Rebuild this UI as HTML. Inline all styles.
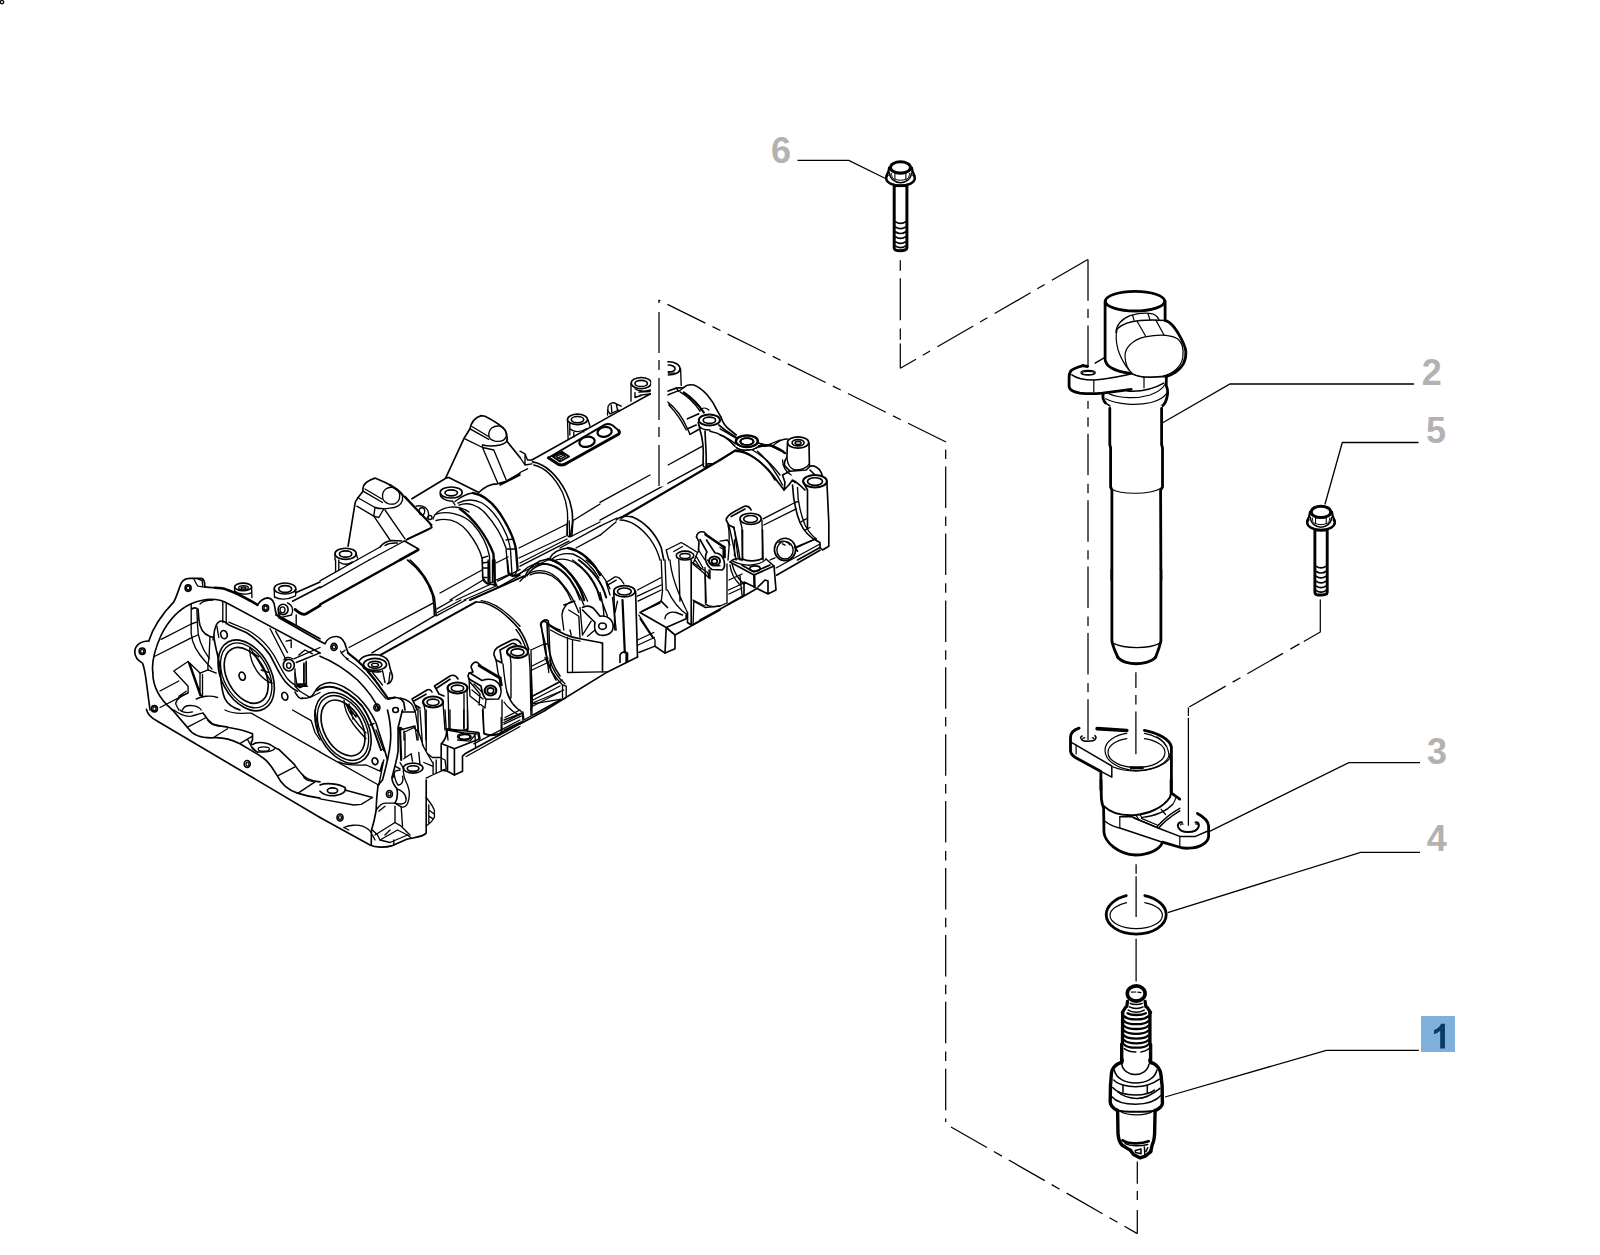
<!DOCTYPE html>
<html><head><meta charset="utf-8"><title>Diagram</title>
<style>
html,body{margin:0;padding:0;background:#fff;}
body{width:1600px;height:1255px;overflow:hidden;font-family:"Liberation Sans",sans-serif;}
svg{display:block}
.k{stroke:#000;fill:none;stroke-linecap:round;stroke-linejoin:round;vector-effect:non-scaling-stroke}
.t{stroke-width:1.2}
.m{stroke-width:1.5}
.h{stroke-width:2.8}
.w{fill:#fff}
.cv .t{stroke-width:1.35}
.cv .m{stroke-width:1.65}
.lbl{font-family:"Liberation Sans",sans-serif;font-weight:bold;font-size:36px;fill:#b2b2b2}
</style></head><body>
<svg width="1600" height="1255" viewBox="0 0 1600 1255">
<rect width="1600" height="1255" fill="#fff"/>
<!-- corner speck -->
<circle cx="2" cy="2.1" r="1.7" fill="none" stroke="#000" stroke-width="1.3"/>
<!-- labels -->
<text class="lbl" x="771" y="162.8">6</text>
<text class="lbl" x="1421.7" y="384.6">2</text>
<text class="lbl" x="1426" y="443">5</text>
<text class="lbl" x="1427" y="764">3</text>
<text class="lbl" x="1426.7" y="851">4</text>
<rect x="1421" y="1016" width="34" height="36" fill="#7eb0d9"/>
<path fill="#0c3a66" transform="translate(1431.6 1048.6) scale(0.01655 -0.01655)" d="M806,0 L519,0 L519,1082 Q362,935 148,865 L148,1125 Q260,1162 392,1264 Q524,1366 573,1502 L806,1502 Z"/>
<!-- leader lines -->
<g stroke="#000" stroke-width="1.3" fill="none" stroke-linejoin="miter">
<polyline points="797.5,160.4 848.8,160.4 885.5,178.5"/>
<polyline points="1414,384 1230,384 1162.7,422.8"/>
<polyline points="1418.5,442.5 1342.3,442.5 1324.9,504.5"/>
<polyline points="1420,762.7 1348.8,762.7 1208.6,831.8"/>
<polyline points="1420,852.3 1360.6,852.3 1167.7,912.7"/>
<polyline points="1418.8,1050.3 1326.3,1050.3 1165,1097"/>
</g>

<defs>
<g id="bolt" fill="none" stroke="#000" stroke-linecap="round" stroke-linejoin="round">
  <!-- flange -->
  <ellipse cx="0" cy="17.6" rx="14.3" ry="7.6" fill="#fff" stroke-width="2.5"/>
  <!-- head body -->
  <path d="M-11.2,7 C-11.4,10 -12.3,12 -13.6,14.5 L13.6,14.5 C12.3,12 11.4,10 11.2,7 Z" fill="#fff" stroke="none"/>
  <path d="M-11.3,7 C-11.4,10 -12.4,12.4 -14,15.3 M11.3,7 C11.4,10 12.4,12.4 14,15.3" stroke-width="2.4"/>
  <ellipse cx="0" cy="6.9" rx="10" ry="5.7" fill="#fff" stroke-width="3"/>
  <!-- hex -->
  <path d="M-9.2,10.3 L-5.6,11.6 L5.4,11.6 L9.2,10.3 M-5.6,11.6 V18.5 M5.4,11.6 V18.5" stroke-width="1.1"/>
  <path d="M-10.9,12.5 C-10.8,18.5 -5,22.2 0,22.2 C5,22.2 10.8,18.5 10.9,12.5" stroke-width="1.5"/>
  <path d="M-9,13 C-9,16.5 -7.3,18.8 -5.6,18.5 C-3,20 3,20 5.4,18.5 C7.3,18.8 9,16.5 9,13" stroke-width="1"/>
  <!-- neck -->
  <path d="M-5,24.2 H5.2 M-5,26 H5.2" stroke-width="1"/>
  <!-- shaft -->
  <path d="M-6.3,24.5 V87.4 C-6.3,91 6.4,91 6.4,87.4 V24.5" stroke-width="3" />
  <path d="M-4.7,61.3 C-2.5,63.3 2.5,63.3 4.8,61.3 M-4.7,66.5 C-2.5,68.5 2.5,68.5 4.8,66.5 M-4.7,71.4 C-2.5,73.4 2.5,73.4 4.8,71.4 M-4.7,76.3 C-2.5,78.3 2.5,78.3 4.8,76.3 M-4.7,81.2 C-2.5,83.2 2.5,83.2 4.8,81.2 M-4.7,85.6 C-2.5,87.6 2.5,87.6 4.8,85.6" stroke-width="1.7"/>
</g>
</defs>
<use href="#bolt" x="900.5" y="160.6"/>
<use href="#bolt" x="1321" y="505" transform="translate(1321 505) scale(0.97 1) translate(-1321 -505)"/>

<path fill="#fff" stroke="none" d="M 1083.1,365.6 L 1071.9,369.4 L 1069.4,373.8 L 1069.4,387.5 L 1073.1,391.9 L 1087.5,393.8 L 1102.5,393.1 L 1105.0,360.0 L 1105.0,301.2 L 1165.6,301.2 L 1165.6,320.6 L 1185.6,350.0 L 1182.5,365.0 L 1166.2,376.2 L 1166.9,400.0 L 1160.0,407.5 L 1160.6,420.0 L 1110.0,420.0 L 1110.0,407.5 L 1103.8,400.0 Z"/>
<ellipse class="k h" cx="1135.0" cy="301.2" rx="29.6" ry="9.8"/>
<path class="k h" d="M 1105.1,301.2 L 1105.1,359.4 C 1105.6,366.2 1115.0,371.2 1130.0,373.5"/>
<path class="k h" d="M 1165.1,301.2 L 1165.1,320.4"/>
<path class="k h" d="M 1165.1,320.4 C 1170.0,321.9 1173.8,326.2 1176.9,331.2 C 1180.6,337.5 1185.0,343.8 1185.8,351.2 C 1186.5,360.0 1182.5,367.5 1175.0,372.5 C 1171.9,374.8 1168.8,376.0 1166.0,376.5"/>
<path class="k m" d="M 1117.2,328.8 C 1122.5,323.8 1131.2,321.0 1140.0,320.4 C 1148.8,319.8 1157.5,319.8 1165.1,320.6"/>
<path class="k t" d="M 1117.2,328.8 C 1115.6,335.0 1116.0,342.5 1118.1,350.0 C 1120.6,357.5 1125.0,365.0 1128.8,370.0"/>
<path class="k t" d="M 1115.9,332.5 C 1116.2,325.0 1121.2,319.4 1130.0,315.6 C 1137.5,313.5 1147.5,312.8 1152.5,313.8 C 1155.6,314.8 1157.8,316.9 1159.0,319.4"/>
<path class="k t" d="M 1132.5,315.0 L 1134.0,320.2 M 1147.9,313.5 L 1150.0,319.8 M 1137.2,321.5 L 1145.6,336.0 M 1156.0,320.4 L 1164.0,335.0"/>
<path class="k t" d="M 1125.0,356.2 C 1124.8,347.5 1132.5,340.0 1145.0,336.9 C 1157.5,334.4 1170.0,334.4 1177.5,338.8 C 1182.5,342.5 1183.8,350.0 1182.8,357.5 C 1181.2,366.2 1173.8,373.8 1162.5,376.2 C 1152.5,377.8 1140.0,377.5 1132.5,373.8 C 1126.9,368.8 1125.2,362.5 1125.0,356.2 Z"/>
<path class="k h" d="M 1083.1,365.6 C 1076.9,367.2 1072.5,368.8 1070.6,371.2 C 1069.4,373.1 1069.1,375.0 1069.1,377.5 L 1069.1,386.9 C 1070.0,390.6 1073.8,392.2 1080.0,393.1 C 1087.5,394.0 1095.0,393.8 1102.5,393.1 C 1112.5,391.9 1122.5,390.6 1131.2,389.4"/>
<path class="k h" d="M 1082.8,365.6 L 1087.5,366.5"/>
<path class="k m" d="M 1095.2,363.1 L 1104.0,357.8"/>
<path class="k m" d="M 1071.9,374.8 C 1076.2,378.1 1083.8,380.0 1093.8,380.0 C 1106.2,379.4 1120.0,376.2 1131.9,373.8"/>
<path class="k t" d="M 1093.8,380.2 L 1093.8,391.9 M 1144.0,377.2 L 1144.0,387.8"/>
<path class="k t" d="M 1131.9,373.8 C 1136.2,376.2 1141.2,377.2 1145.0,377.2 L 1165.0,376.9"/>
<ellipse class="k t" cx="1088.1" cy="372.8" rx="7.2" ry="2.4"/>
<ellipse class="k t" cx="1088.1" cy="373.0" rx="6.0" ry="1.6"/>
<path class="k h" d="M 1103.1,393.8 C 1102.5,397.5 1103.1,400.6 1105.6,403.1"/>
<path class="k h" d="M 1166.2,376.5 C 1166.9,380.0 1165.6,382.5 1166.5,386.2 C 1168.1,390.0 1167.5,396.2 1166.2,400.0 C 1165.0,403.8 1162.5,406.2 1160.0,407.5"/>
<path class="k m" d="M 1105.6,403.1 C 1115.0,410.6 1130.0,411.9 1142.5,411.0 C 1150.0,410.2 1156.2,409.0 1160.0,407.5"/>
<path class="k t" d="M 1108.8,393.8 C 1120.0,398.8 1137.5,398.8 1150.0,395.0 C 1157.5,392.5 1162.5,388.8 1165.6,383.8"/>
<path class="k t" d="M 1105.6,398.8 C 1117.5,405.0 1137.5,405.6 1151.2,402.5 C 1158.8,400.6 1163.8,397.5 1166.9,393.1"/>
<path class="k m" d="M 1127.5,391.0 C 1140.0,391.9 1153.8,388.8 1163.8,383.1"/>
<path class="k t" d="M 1110.0,406.9 C 1120.0,411.9 1137.5,412.5 1150.0,410.6"/>

<path fill="#fff" stroke="none" d="M 1110.3,405.6 L 1161.9,405.6 L 1161.1,580.0 L 1111.9,580.0 Z"/>
<path class="k h" d="M 1109.8,408.4 L 1109.8,444.7 L 1110.6,447.8 L 1110.6,486.9 L 1111.9,490.0 L 1111.9,580.0"/>
<path class="k h" d="M 1161.6,408.4 L 1161.6,444.7 L 1162.5,447.8 L 1162.5,486.9 L 1160.6,490.0 L 1160.9,580.0"/>
<path class="k t" d="M 1111.9,489.2 C 1121.2,494.7 1149.4,494.7 1160.6,488.4"/>

<path fill="#fff" stroke="none" d="M 1111.9,570.0 L 1161.1,570.0 L 1161.1,641.1 L 1155.6,657.5 L 1136.1,663.8 L 1118.1,657.5 L 1111.9,641.1 Z"/>
<path class="k h" d="M 1111.9,570.0 L 1111.9,641.1 C 1112.7,645.0 1115.0,651.2 1117.8,657.2"/>
<path class="k h" d="M 1160.9,570.0 L 1160.9,641.1 C 1160.0,645.0 1158.0,651.2 1155.6,657.2"/>
<path class="k h" d="M 1117.8,657.2 C 1121.2,662.2 1130.6,663.8 1136.1,663.8 C 1141.6,663.8 1151.7,662.2 1155.6,657.2" style="stroke-width:3"/>
<path class="k t" d="M 1113.4,643.4 C 1124.4,648.9 1149.4,648.9 1159.5,643.4"/>

<path class="k h" d="M 1079.1,728.1 C 1074.2,729.6 1070.5,733.0 1070.5,737.5 L 1070.5,751.0 C 1070.9,754.8 1073.5,756.6 1077.2,758.5 L 1100.5,771.2"/>
<path class="k h" d="M 1097.1,728.6 L 1126.8,730.5" style="stroke-width:3.6"/>
<path class="k h" d="M 1144.4,730.4 C 1157.5,733.0 1170.2,739.0 1171.4,747.2 L 1171.4,793.0"/>
<path class="k h" d="M 1100.9,772.0 L 1100.9,790.0"/>
<path class="k t" d="M 1126.8,733.4 C 1115.5,734.9 1105.0,741.2 1105.0,750.2 C 1105.0,761.5 1120.0,770.5 1137.2,770.5 C 1154.5,770.5 1168.0,763.0 1169.5,754.0"/>
<path class="k t" d="M 1144.4,733.4 C 1153.8,734.9 1162.8,739.8 1166.5,746.5"/>
<path class="k t" d="M 1126.8,738.6 C 1117.0,740.1 1108.0,745.0 1108.0,752.5 C 1108.0,760.8 1120.8,767.5 1136.5,767.5 C 1153.0,767.5 1165.0,760.8 1165.0,752.5 C 1165.0,745.8 1156.8,740.5 1144.4,738.6"/>
<path class="k t" d="M 1156.8,736.8 C 1162.0,739.8 1166.5,744.2 1168.0,750.2 C 1168.8,753.2 1169.1,755.5 1169.5,757.0"/>
<path class="k t" d="M 1112.5,766.8 C 1120.0,769.8 1127.5,771.1 1135.8,771.1 C 1146.2,770.9 1157.5,767.9 1165.0,763.0 C 1168.0,760.8 1169.9,758.5 1171.0,756.2"/>
<path class="k t" d="M 1130.5,766.9 L 1143.2,766.9 M 1130.5,768.7 L 1143.2,768.7"/>
<path class="k m" d="M 1071.2,742.4 L 1073.1,743.4 L 1111.8,766.0 L 1111.8,777.2 L 1100.5,771.2"/>
<path class="k t" d="M 1076.1,745.1 L 1076.1,754.0"/>
<path class="k m" d="M 1082.1,736.0 C 1080.2,736.8 1080.2,738.2 1081.8,739.8 C 1084.0,741.6 1093.0,741.6 1094.9,739.8 C 1096.4,738.2 1096.4,736.8 1094.9,735.6"/>
<path class="k t" d="M 1082.5,739.0 C 1083.2,737.9 1084.0,737.5 1084.8,737.9 M 1094.1,739.0 C 1093.8,737.9 1093.0,737.5 1092.2,737.9"/>
<path class="k h" d="M 1101.0,780.0 L 1101.4,798.8 C 1101.8,802.5 1102.5,805.5 1103.6,807.8 L 1104.0,832.5 C 1104.8,841.5 1117.5,854.2 1135.5,855.0 C 1147.5,855.0 1158.8,850.5 1162.5,842.6"/>
<path class="k h" d="M 1171.1,780.0 L 1171.1,792.8 L 1179.8,799.1"/>
<path class="k h" d="M 1197.4,813.4 C 1203.8,816.8 1208.2,820.5 1208.6,825.8 L 1208.6,837.0 C 1207.5,843.0 1200.0,847.9 1188.8,848.2 C 1185.0,848.4 1181.2,847.9 1179.0,847.0 L 1162.5,842.2"/>
<path class="k m" d="M 1162.5,842.2 L 1119.8,828.0 C 1114.5,826.9 1108.5,824.2 1104.0,820.5"/>
<path class="k m" d="M 1103.6,805.9 C 1110.0,812.2 1121.2,816.0 1134.0,815.2 C 1147.5,814.1 1162.5,808.5 1170.0,797.2 L 1171.1,792.8" style="stroke-width:2"/>
<path class="k t" d="M 1141.5,817.5 C 1155.0,816.0 1166.2,811.5 1173.0,804.0 C 1174.5,802.1 1175.2,800.2 1175.6,798.0"/>
<path class="k m" d="M 1157.2,826.6 C 1162.5,820.5 1170.0,813.8 1179.8,808.4 M 1158.9,827.7 C 1164.0,822.0 1171.5,816.0 1179.8,810.9"/>
<path class="k t" d="M 1161.0,809.2 L 1165.5,814.5 M 1135.9,815.2 L 1138.5,819.0 M 1140.0,814.6 L 1141.7,817.5"/>
<path class="k t" d="M 1119.8,816.8 L 1119.8,828.0"/>
<path class="k m" d="M 1119.8,816.8 L 1131.8,816.8 L 1158.0,828.0 L 1179.8,836.4 L 1195.5,836.4 L 1207.9,831.0"/>
<path class="k t" d="M 1134.0,818.2 L 1155.0,826.6 M 1141.5,818.4 L 1157.2,825.0"/>
<path class="k t" d="M 1179.8,836.4 L 1179.8,847.0"/>
<path class="k m" d="M 1182.0,822.4 C 1179.0,821.6 1177.1,824.2 1178.2,827.2 C 1179.8,831.0 1184.2,832.1 1188.0,832.1 C 1192.5,832.1 1197.0,831.0 1198.5,827.2 C 1199.6,824.2 1198.1,821.6 1195.5,822.4" style="stroke-width:2"/>
<path class="k t" d="M 1180.5,825.0 C 1181.2,823.9 1182.4,823.5 1183.1,824.2 M 1195.9,824.2 C 1196.6,823.5 1197.8,823.9 1198.1,825.0"/>

<path class="k h" d="M 1126.3,895.6 C 1114.8,898.6 1106.2,905.7 1106.2,914.8 C 1106.2,925.4 1119.3,934.1 1136.2,934.1 C 1153.1,934.1 1166.2,925.4 1166.2,914.8 C 1166.2,905.7 1157.5,898.6 1144.8,895.6"/>
<path class="k t" d="M 1126.5,902.7 C 1117.4,904.8 1110.0,909.5 1110.0,915.2 C 1110.0,922.9 1121.8,928.6 1136.2,928.6 C 1150.5,928.6 1162.4,922.9 1162.4,915.2 C 1162.4,909.5 1155.0,904.8 1144.8,902.7"/>

<path fill="#fff" stroke="none" d="M 1126.7,1002.1 L 1125.5,1006.9 L 1121.9,1012.5 L 1121.5,1062.6 L 1150.6,1062.6 L 1151.0,1012.5 L 1147.0,1006.9 L 1145.8,1002.1 Z"/>
<ellipse class="k h" cx="1136.2" cy="993.5" rx="8.9" ry="7.6" style="stroke-width:3.6" fill="#fff"/>
<path class="k t" d="M 1131.4,992.1 L 1135.8,992.0 M 1137.8,992.1 L 1141.0,992.7"/>
<path class="k m" d="M 1129.8,998.9 C 1133.0,1001.3 1139.4,1001.3 1143.0,998.9" style="stroke-width:2.2"/>
<path class="k h" d="M 1127.5,1001.3 L 1126.8,1006.5 L 1125.5,1007.3 L 1122.3,1012.5" style="stroke-width:3.2"/>
<path class="k h" d="M 1145.1,1001.3 L 1145.8,1006.5 L 1147.2,1007.3 L 1150.6,1012.5" style="stroke-width:3.2"/>
<path class="k m" d="M 1130.2,1003.3 C 1133.0,1004.9 1139.4,1004.9 1142.2,1003.3 M 1129.4,1006.9 C 1133.0,1008.9 1139.4,1008.9 1143.0,1006.9 M 1128.2,1010.1 C 1132.2,1012.8 1140.2,1012.8 1144.2,1010.1"/>
<path class="k m" d="M 1127.5,1013.2 C 1131.4,1015.6 1141.0,1015.6 1145.8,1013.2" style="stroke-width:2.4"/>
<path class="k h" d="M 1122.7,1012.5 L 1122.5,1043.5 L 1121.7,1044.3 L 1121.7,1062.6" style="stroke-width:3.4"/>
<path class="k h" d="M 1149.9,1012.5 L 1149.9,1043.5 L 1150.6,1044.3 L 1150.6,1062.6" style="stroke-width:3.4"/>
<path class="k m" d="M 1124.4,1016.4 C 1128.2,1020.4 1144.2,1020.4 1148.0,1016.4" style="stroke-width:2.3"/>
<path class="k m" d="M 1124.4,1021.2 C 1128.2,1025.2 1144.2,1025.2 1148.0,1021.2" style="stroke-width:2.3"/>
<path class="k m" d="M 1124.4,1026.0 C 1128.2,1030.0 1144.2,1030.0 1148.0,1026.0" style="stroke-width:2.3"/>
<path class="k m" d="M 1124.4,1030.8 C 1128.2,1034.8 1144.2,1034.8 1148.0,1030.8" style="stroke-width:2.3"/>
<path class="k m" d="M 1124.4,1035.6 C 1128.2,1039.5 1144.2,1039.5 1148.0,1035.6" style="stroke-width:2.3"/>
<path class="k m" d="M 1124.4,1040.3 C 1128.2,1044.3 1144.2,1044.3 1148.0,1040.3" style="stroke-width:2.3"/>
<path class="k m" d="M 1124.4,1044.7 C 1128.2,1048.7 1144.2,1048.7 1148.0,1044.7" style="stroke-width:2.3"/>
<path class="k m" d="M 1124.3,1048.7 C 1127.5,1051.1 1132.2,1052.1 1135.8,1052.1 M 1141.0,1051.9 C 1145.0,1051.1 1147.4,1049.9 1148.6,1048.7"/>
<path fill="#fff" stroke="none" d="M 1121.0,1061.7 L 1114.3,1065.0 L 1111.3,1070.0 L 1110.1,1085.1 L 1110.1,1101.8 L 1112.2,1106.9 L 1116.8,1110.2 L 1118.0,1135.3 L 1120.1,1143.7 L 1130.2,1150.4 L 1133.5,1154.5 L 1140.2,1157.9 L 1145.2,1156.2 L 1150.2,1152.0 L 1152.7,1143.7 L 1154.4,1135.3 L 1156.1,1110.2 L 1160.3,1107.7 L 1162.4,1103.5 L 1162.4,1085.1 L 1160.3,1070.9 L 1156.9,1065.0 L 1150.2,1061.7 Z"/>
<path class="k h" d="M 1122.2,1060.0 L 1121.8,1062.5 C 1117.6,1063.3 1114.3,1065.9 1112.2,1070.0 C 1110.9,1073.4 1111.3,1078.4 1110.5,1085.1 L 1110.2,1101.8 C 1110.5,1105.2 1113.0,1108.1 1116.9,1110.2" style="stroke-width:3.4"/>
<path class="k h" d="M 1149.8,1060.0 L 1150.4,1062.5 C 1154.4,1063.3 1157.8,1065.9 1159.9,1070.5 C 1161.5,1074.2 1161.1,1079.2 1162.1,1085.1 L 1162.4,1103.5 C 1162.0,1106.4 1159.4,1108.5 1156.1,1110.2" style="stroke-width:3.4"/>
<path class="k m" d="M 1121.8,1064.2 C 1122.6,1070.9 1129.3,1074.6 1135.2,1074.6 C 1141.9,1074.6 1147.7,1070.9 1149.0,1064.2"/>
<path class="k m" d="M 1114.3,1070.0 C 1115.9,1078.4 1125.1,1083.0 1135.6,1083.0 C 1146.1,1083.0 1155.3,1078.4 1156.9,1070.0"/>
<path class="k m" d="M 1113.8,1080.1 C 1117.6,1084.3 1126.8,1086.8 1135.6,1086.8 C 1145.2,1086.8 1153.6,1083.4 1159.4,1079.2"/>
<path class="k m" d="M 1123.0,1085.1 L 1123.0,1091.8 M 1147.3,1085.9 L 1147.3,1092.6"/>
<path class="k m" d="M 1112.6,1087.6 C 1117.6,1093.5 1126.8,1095.1 1135.6,1095.1 C 1144.4,1095.1 1151.9,1092.6 1154.4,1090.1"/>
<path class="k m" d="M 1117.6,1091.8 C 1123.5,1096.8 1130.2,1098.5 1136.9,1098.5 C 1144.4,1098.5 1151.9,1095.1 1159.9,1088.4"/>
<path class="k m" d="M 1111.9,1096.8 C 1116.8,1102.7 1126.8,1104.3 1135.6,1104.3 C 1146.1,1104.3 1156.1,1101.0 1161.5,1095.1"/>
<path class="k m" d="M 1116.9,1110.2 C 1125.1,1112.3 1147.7,1112.3 1156.1,1110.2" style="stroke-width:2"/>
<path class="k t" d="M 1120.5,1111.5 C 1125.1,1114.4 1131.8,1114.8 1136.9,1114.8 C 1143.5,1114.8 1150.2,1113.1 1153.6,1111.0"/>
<path class="k h" d="M 1117.6,1110.2 L 1118.0,1133.6 C 1118.4,1138.6 1119.7,1142.8 1122.2,1145.3 L 1130.6,1150.4" style="stroke-width:3.4"/>
<path class="k h" d="M 1155.1,1110.2 L 1154.6,1133.6 C 1154.3,1138.6 1153.6,1142.0 1152.3,1144.5 L 1150.7,1151.6" style="stroke-width:3.4"/>
<path class="k h" d="M 1122.6,1140.3 C 1127.6,1143.7 1140.2,1144.5 1148.6,1141.3"/>
<path class="k m" d="M 1125.1,1143.7 C 1130.2,1146.2 1140.2,1146.6 1147.7,1144.5"/>
<path class="k h" d="M 1130.6,1150.4 L 1133.5,1154.5 L 1140.2,1157.9 L 1145.2,1156.2 L 1150.7,1151.6" style="stroke-width:3.4"/>
<path class="k m" d="M 1135.2,1150.4 L 1141.0,1149.1 L 1141.0,1153.7 L 1135.6,1152.5 Z M 1144.4,1147.0 L 1144.8,1154.5 M 1147.7,1147.8 L 1146.1,1151.2"/>

<g class="cv">
<path class="k m" d="M 150.0,710.0 L 146.9,686.2 C 145.6,675.0 144.4,667.5 142.5,663.1 C 138.1,660.6 134.8,657.5 134.8,651.9 C 134.8,646.2 139.4,641.2 148.8,641.0"/>
<path class="k m" d="M 148.8,641.0 C 151.9,631.2 160.0,616.2 173.8,601.9 C 176.9,596.2 178.8,588.8 181.2,583.1 C 183.1,579.8 185.6,578.5 189.4,578.4 L 201.2,578.4 C 204.0,578.8 205.0,581.2 204.8,586.9"/>
<path class="k t" d="M 193.8,578.8 C 195.0,581.2 196.2,584.4 198.1,586.2 L 204.4,587.2 M 198.1,579.0 L 202.2,580.6 L 202.8,586.5"/>
<path class="k m" d="M 204.8,586.9 C 210.0,587.5 212.5,587.6 215.0,587.8"/>
<path class="k m" d="M 215.0,587.8 C 220.0,588.0 223.8,588.5 226.2,589.4 C 233.8,591.9 243.8,596.9 251.2,601.2 L 257.5,604.8" style="stroke-width:2.6"/>
<path class="k m" d="M 257.5,604.8 C 259.4,601.9 263.1,598.5 267.5,597.9 C 271.9,598.1 274.4,601.9 275.0,608.1 C 275.4,612.5 276.2,615.6 279.4,617.5"/>
<path class="k m" d="M 277.8,615.2 L 320.0,638.8 M 279.0,617.8 L 320.0,641.2"/>
<path class="k m" d="M 152.8,672.5 C 151.2,660.0 156.2,646.2 161.2,635.0 C 168.8,620.0 180.0,608.8 191.2,603.8 C 201.2,599.4 212.5,598.5 220.0,600.2 C 223.8,601.2 226.2,602.5 228.8,604.0 L 320.0,653.1"/>
<path class="k m" d="M 152.8,672.5 C 152.8,685.0 157.5,697.5 172.5,710.0"/>
<ellipse class="k m" cx="188.1" cy="588.1" rx="3.0" ry="3.2"/>
<ellipse class="k t" cx="188.1" cy="588.1" rx="1.6" ry="1.9"/>
<ellipse class="k m" cx="265.6" cy="608.1" rx="3.0" ry="3.2"/>
<ellipse class="k t" cx="265.6" cy="608.1" rx="1.6" ry="1.9"/>
<ellipse class="k m" cx="142.2" cy="651.2" rx="3.0" ry="3.2"/>
<ellipse class="k t" cx="142.2" cy="651.2" rx="1.6" ry="1.9"/>
<ellipse class="k m" cx="154.4" cy="708.8" rx="3.0" ry="3.2"/>
<ellipse class="k t" cx="154.4" cy="708.8" rx="1.6" ry="1.9"/>
<ellipse class="k m" cx="243.1" cy="586.9" rx="8.5" ry="3.8"/>
<ellipse class="k t" cx="243.5" cy="587.8" rx="4.8" ry="2.2"/>
<ellipse class="k t" cx="243.5" cy="588.1" rx="2.5" ry="1.1"/>
<path class="k t" d="M 234.6,586.9 L 234.6,591.9 M 251.6,586.9 L 251.9,597.5 M 235.0,591.2 C 238.8,594.4 246.2,595.0 251.2,592.8 M 236.9,593.1 L 250.0,601.2"/>
<ellipse class="k m" cx="285.0" cy="588.5" rx="10.8" ry="5.5"/>
<ellipse class="k m" cx="285.2" cy="589.0" rx="6.5" ry="3.4"/>
<path class="k t" d="M 274.2,589.4 L 274.5,597.5 M 295.9,589.4 L 295.6,595.6 M 274.5,596.9 C 278.8,600.0 287.5,600.0 295.0,596.2"/>
<path class="k m" d="M 295.6,592.8 L 320.0,581.9 M 292.5,601.2 L 320.0,586.9"/>
<path class="k h" d="M 295.0,609.4 C 300.0,613.8 303.8,615.0 306.2,613.8 L 320.0,605.6"/>
<ellipse class="k m" cx="283.1" cy="609.4" rx="5.0" ry="5.2"/>
<ellipse class="k t" cx="282.5" cy="609.8" rx="2.5" ry="3.0"/>
<path class="k t" d="M 287.5,602.8 C 292.5,605.0 294.0,610.0 291.5,615.0 L 282.5,617.2 M 296.2,615.0 L 296.2,625.0 M 278.1,612.5 L 281.2,618.8 M 275.6,615.0 L 277.8,615.2"/>
<path class="k t" d="M 222.8,601.9 L 222.8,622.5 M 226.2,603.1 L 226.2,624.0"/>
<path class="k t" d="M 191.2,604.0 L 191.2,625.0 C 190.2,635.0 193.1,646.2 200.0,655.0 C 203.8,660.0 207.5,663.8 211.9,669.0"/>
<path class="k t" d="M 196.9,610.0 L 197.5,625.0 C 197.5,635.0 201.2,647.5 209.0,658.1"/>
<path class="k m" d="M 191.9,609.0 C 193.8,607.5 196.2,607.5 198.1,609.4 L 198.8,618.8 C 199.4,627.5 202.5,633.8 210.0,636.5 L 213.1,637.2"/>
<path class="k t" d="M 200.0,604.0 C 201.9,601.9 207.5,600.0 213.1,600.0"/>
<path class="k t" d="M 210.0,636.5 L 209.0,658.1 M 213.1,637.2 L 213.1,640.0"/>
<path class="k t" d="M 161.2,639.4 L 191.2,624.0 M 154.4,656.5 L 191.2,637.8 M 191.2,624.0 L 196.5,622.2 M 191.2,637.8 L 197.8,635.0"/>
<path class="k t" d="M 173.8,671.0 L 188.1,661.5 L 200.0,673.1 M 173.8,671.0 L 188.1,686.2 L 188.1,692.8 L 160.0,707.5 M 160.0,691.0 L 178.8,681.0"/>
<path class="k t" d="M 188.1,661.5 L 200.0,695.6 M 190.0,663.8 L 201.2,695.6 M 200.0,673.1 L 208.1,669.8 L 216.2,673.1 M 202.5,674.4 L 202.5,696.9 M 200.0,673.1 L 200.0,695.6"/>
<path class="k t" d="M 208.1,669.8 C 207.5,666.2 208.1,662.5 209.0,658.1 M 196.2,699.0 L 202.5,696.5 M 196.2,699.0 C 201.2,696.2 210.0,695.0 217.5,697.5"/>
<path class="k t" d="M 188.1,692.8 C 182.5,695.0 176.2,698.8 175.6,703.8 L 178.8,710.0 M 178.8,696.2 L 186.2,691.2"/>
<path class="k t" d="M 182.5,710.0 C 183.8,706.2 187.5,705.0 192.5,705.6 C 197.5,706.2 200.0,708.1 201.2,710.0"/>
<path class="k m" d="M 213.8,636.2 C 214.4,627.5 216.2,622.5 220.0,621.2 C 223.8,620.2 226.2,622.5 228.8,625.0 L 246.2,632.5 C 256.2,638.8 263.8,646.2 270.0,655.0 C 275.0,663.8 278.8,673.8 285.0,681.2 C 288.8,685.6 292.5,688.8 297.5,691.2"/>
<path class="k t" d="M 228.8,622.2 L 247.5,630.0 C 258.8,636.2 267.5,645.0 273.8,655.0 C 278.8,663.8 282.5,672.5 287.5,678.8 C 291.2,683.1 295.0,685.6 300.0,687.5"/>
<path class="k m" d="M 213.8,636.2 C 215.0,647.5 218.8,657.5 220.0,667.5 C 220.6,678.8 221.2,691.2 225.0,698.8 C 227.5,703.8 232.5,707.5 240.0,710.0"/>
<path class="k t" d="M 216.9,626.2 L 218.8,637.5"/>
<ellipse class="k m" cx="224.0" cy="634.6" rx="3.2" ry="4.2" transform="rotate(-20 224.0 634.6)"/>
<ellipse class="k m" cx="284.8" cy="696.2" rx="2.9" ry="4.0" transform="rotate(-20 284.8 696.2)"/>
<ellipse class="k m" cx="246.2" cy="675.4" rx="38.0" ry="24.5" transform="rotate(61.5 246.2 675.4)"/>
<ellipse class="k t" cx="246.2" cy="675.4" rx="34.8" ry="22.3" transform="rotate(61.5 246.2 675.4)"/>
<ellipse class="k m" cx="246.2" cy="675.4" rx="30.0" ry="19.0" transform="rotate(61.5 246.2 675.4)"/>
<ellipse class="k m" cx="242.2" cy="676.2" rx="3.0" ry="4.2" transform="rotate(-20 242.2 676.2)"/>
<path class="k t" d="M 250.0,647.5 C 255.0,655.0 261.2,666.2 270.0,680.0 L 271.9,683.1 M 252.5,652.5 L 258.8,656.9 M 261.2,670.0 L 268.8,672.5"/>
<path class="k t" d="M 250.0,647.5 C 248.8,655.0 252.5,666.2 260.0,675.0 C 263.8,678.8 268.8,682.5 271.9,683.1"/>
<path class="k t" d="M 270.0,628.5 L 286.2,660.0 M 275.6,631.2 L 287.5,652.5"/>
<ellipse class="k m" cx="288.8" cy="665.2" rx="5.5" ry="5.8"/>
<ellipse class="k t" cx="288.8" cy="665.6" rx="2.2" ry="2.8"/>
<path class="k t" d="M 283.8,660.0 C 285.0,657.5 288.8,656.2 292.5,658.8 M 286.2,641.2 L 291.2,640.0 L 291.2,647.5"/>
<path class="k t" d="M 293.8,658.8 L 320.0,647.5 M 296.2,662.5 L 320.0,652.8 M 298.8,655.0 L 305.0,650.0 L 312.5,653.8 M 306.2,661.2 L 306.2,685.0 L 300.0,687.5 M 303.8,663.8 L 303.8,683.8"/>
<path class="k t" d="M 295.0,668.8 L 295.0,686.2 L 300.0,691.2 L 310.0,697.5 L 320.0,692.5 M 297.5,686.2 L 307.5,686.2"/>
</g>
<g class="cv">
<path class="k m" d="M 146.5,709.4 C 147.5,715.0 151.2,718.1 157.5,721.2 L 320.0,817.5"/>
<path class="k m" d="M 172.5,710.0 L 188.1,728.1 C 192.5,735.0 200.0,738.1 212.5,737.8 C 222.5,736.9 232.5,740.0 240.0,743.8 C 250.0,750.0 257.5,753.8 262.5,757.5 C 270.0,762.5 273.8,770.0 277.5,776.2 C 281.2,783.8 287.5,790.0 297.5,793.1 C 305.0,795.6 315.0,797.5 320.0,798.1"/>
<path class="k t" d="M 188.1,726.9 L 206.2,717.5 M 213.1,737.8 L 227.5,728.8 M 240.6,743.1 L 252.5,736.2 M 278.1,775.6 L 295.0,766.9 M 298.1,793.1 L 315.0,781.9"/>
<path class="k m" d="M 203.1,713.1 C 205.0,716.2 207.5,720.0 212.5,723.8 C 217.5,726.2 223.8,726.2 228.8,727.5 C 237.5,728.8 246.2,731.2 252.5,733.8 L 252.5,740.0 C 250.0,743.8 251.2,746.2 255.0,743.1 C 260.0,741.9 267.5,742.5 271.9,745.6 C 275.0,747.5 276.2,748.8 278.8,749.4 L 293.8,763.8 C 297.5,768.8 301.2,775.0 307.5,778.8 C 312.5,781.2 317.5,781.9 320.0,781.9"/>
<path class="k t" d="M 207.5,720.0 C 210.0,723.8 213.8,726.2 220.0,726.2 M 251.2,746.2 C 252.5,750.0 256.2,752.5 260.0,751.9 C 266.2,752.5 273.8,751.2 275.0,748.1 M 247.5,739.4 L 251.2,746.2 L 257.5,752.5 M 302.5,774.4 C 303.8,778.8 307.5,781.2 312.5,781.2"/>
<ellipse class="k t" cx="263.8" cy="749.0" rx="5.6" ry="2.2"/>
<path class="k t" d="M 173.8,710.0 C 178.8,713.8 185.0,716.9 191.2,716.2 C 196.2,715.0 201.2,713.1 203.1,713.1 M 180.0,710.0 C 182.5,712.5 187.5,713.1 192.5,711.9"/>
<path class="k t" d="M 251.2,713.1 L 320.0,751.9 M 225.0,710.0 C 230.0,712.5 238.8,713.8 246.2,713.1 L 251.2,713.1 M 292.5,710.0 L 311.2,720.6 L 315.0,732.5 L 320.0,740.0 M 315.0,710.0 L 318.8,735.0"/>
<ellipse class="k m" cx="247.2" cy="764.0" rx="3.0" ry="3.5"/>
<ellipse class="k t" cx="247.5" cy="764.2" rx="1.5" ry="1.9"/>
</g>
<g class="cv">
<path class="k m" d="M 320.0,817.5 L 370.0,845.0 C 375.0,847.5 385.0,847.8 392.5,845.6 L 406.2,839.4 C 412.5,837.5 422.5,837.5 426.2,833.1 L 426.2,780.0"/>
<path class="k t" d="M 426.2,797.5 C 430.0,802.5 434.4,807.5 434.4,811.2 L 434.4,817.5 C 432.5,821.2 430.0,823.1 427.5,825.0 M 428.8,805.0 L 428.8,822.5 M 428.8,810.0 L 433.8,813.8 M 428.8,816.2 L 433.1,818.8"/>
<path class="k m" d="M 387.5,710.0 C 390.0,720.0 391.2,730.0 390.6,740.0 C 390.0,752.5 386.2,766.2 382.5,780.0 L 378.1,785.0"/>
<path class="k m" d="M 402.5,710.0 L 398.1,727.5 L 398.1,751.2 C 396.9,760.0 395.0,766.2 391.9,777.5 C 391.9,781.2 393.8,785.0 396.9,788.8 C 398.1,795.0 396.9,800.0 395.0,803.1"/>
<path class="k m" d="M 378.1,785.0 C 376.9,795.0 376.2,802.5 376.2,810.0 C 375.0,817.5 373.1,825.0 371.5,830.0 L 371.2,845.2"/>
<ellipse class="k m" cx="389.4" cy="794.0" rx="3.0" ry="3.5"/>
<ellipse class="k t" cx="389.4" cy="794.0" rx="1.5" ry="1.9"/>
<ellipse class="k m" cx="340.0" cy="817.5" rx="3.0" ry="3.5"/>
<ellipse class="k t" cx="340.0" cy="817.5" rx="1.5" ry="1.9"/>
<ellipse class="k m" cx="375.0" cy="761.2" rx="2.8" ry="3.5" transform="rotate(-20 375.0 761.2)"/>
<ellipse class="k m" cx="395.6" cy="710.0" rx="2.8" ry="2.5"/>
<path class="k m" d="M 320.0,785.0 C 326.2,782.5 338.8,783.8 345.0,787.5 C 346.9,791.2 342.5,795.0 335.0,795.6 C 327.5,796.2 322.5,793.8 320.0,791.2"/>
<ellipse class="k m" cx="332.5" cy="790.6" rx="5.2" ry="2.8"/>
<path class="k t" d="M 320.0,752.2 L 378.5,785.0 M 345.0,790.0 L 372.5,797.5 L 361.2,804.4 L 353.8,805.0 M 320.0,798.8 L 353.8,805.0"/>
<path class="k t" d="M 338.8,761.9 C 347.5,766.2 357.5,765.0 366.2,765.0 L 380.0,771.2 M 380.0,771.2 L 382.5,762.5 M 378.8,785.0 L 383.8,760.0"/>
<path class="k t" d="M 343.8,827.5 C 348.8,825.0 357.5,824.4 362.5,826.2 M 343.8,827.5 L 348.8,830.0 M 362.5,826.2 C 367.5,828.1 370.0,830.6 371.5,833.1"/>
<ellipse class="k m" cx="343.0" cy="728.0" rx="38.0" ry="24.5" transform="rotate(61.5 343.0 728.0)"/>
<ellipse class="k t" cx="343.0" cy="728.0" rx="34.8" ry="22.3" transform="rotate(61.5 343.0 728.0)"/>
<ellipse class="k m" cx="343.0" cy="728.0" rx="30.0" ry="19.0" transform="rotate(61.5 343.0 728.0)"/>
<ellipse class="k m" cx="413.1" cy="768.1" rx="9.8" ry="5.0"/>
<ellipse class="k m" cx="413.1" cy="768.5" rx="5.8" ry="2.8"/>
<path class="k t" d="M 403.5,768.8 C 402.5,775.0 405.0,780.0 407.5,785.0 C 410.0,791.2 410.0,797.5 407.5,803.8 C 406.2,806.2 403.8,807.5 401.2,806.9 M 395.0,803.1 L 401.2,806.9"/>
<path class="k t" d="M 393.8,772.5 C 395.0,777.5 395.0,781.2 398.1,785.0 C 402.5,785.0 403.8,780.0 402.5,776.2 M 393.1,777.5 L 395.0,771.2 L 400.0,770.0"/>
<path class="k t" d="M 396.9,788.8 C 401.2,790.0 406.2,793.8 406.2,800.0 C 405.6,803.8 402.5,805.0 395.0,803.1"/>
<path class="k t" d="M 376.2,810.0 C 378.8,806.2 382.5,803.1 385.0,803.1 L 395.0,803.1 M 378.8,811.2 L 385.0,806.2 M 375.0,835.0 L 395.0,822.5 L 401.2,826.2 L 410.0,835.0 M 380.0,840.0 L 397.5,830.0 L 407.5,835.0"/>
<path class="k t" d="M 395.0,806.2 L 395.0,822.5 M 401.2,806.9 L 402.5,826.2 M 372.5,830.0 L 377.5,835.0 L 380.0,840.0 L 390.0,842.5 M 390.0,842.5 L 407.5,835.0 L 410.6,837.5 M 372.5,835.0 L 375.0,840.0 M 393.8,840.0 L 393.8,845.0 M 385.0,835.0 L 390.0,830.0"/>
<path class="k m" d="M 446.2,728.8 L 478.8,732.5 L 480.0,738.8 L 454.4,748.8 L 454.4,775.0 L 462.5,771.2 L 462.5,756.2 L 465.0,753.8 L 520.0,723.8"/>
<path class="k m" d="M 446.2,728.8 C 447.5,735.0 445.0,740.0 441.2,743.8 L 441.2,770.0 L 447.5,771.2 L 454.4,775.0 M 441.9,743.8 L 454.4,748.8 M 447.5,747.5 L 447.5,770.0"/>
<ellipse class="k m" cx="463.8" cy="736.5" rx="6.2" ry="3.0"/>
<path class="k t" d="M 475.0,734.4 L 475.6,747.5 M 473.8,743.8 L 520.0,720.0 M 466.2,756.5 L 520.0,726.5 M 457.5,740.0 L 470.0,741.2 L 475.0,735.0"/>
<path class="k t" d="M 445.0,710.0 L 446.2,728.8 M 450.0,710.0 L 450.0,728.8 M 463.8,710.0 L 463.8,728.8 M 467.5,710.0 L 467.5,731.2 M 482.5,710.0 L 483.8,733.8 C 488.8,736.2 497.5,736.2 501.2,732.5 L 501.2,717.5 M 501.2,732.5 L 520.0,722.5"/>
<path class="k t" d="M 505.0,717.5 L 520.0,710.0 M 503.8,722.5 L 520.0,714.4"/>
<path class="k m" d="M 400.0,728.8 L 401.2,760.0" style="stroke-width:2.2"/>
<path class="k t" d="M 398.1,728.8 C 398.8,726.9 401.2,726.9 402.5,728.8 M 403.8,732.5 L 413.8,727.5 L 418.8,732.5 L 423.8,747.5 M 415.0,710.0 L 418.8,732.5 M 420.0,710.0 L 422.5,745.0 L 427.5,753.8 L 432.5,762.5 M 426.2,710.0 L 426.2,751.2"/>
<path class="k t" d="M 403.8,758.8 L 411.2,753.8 L 412.5,761.2 M 418.8,752.5 L 420.0,765.0 M 405.0,733.8 L 405.0,757.5 M 400.0,762.5 L 403.8,768.8 M 395.0,766.2 L 400.0,768.8"/>
<path class="k t" d="M 432.5,757.5 L 440.0,757.5 L 445.0,760.0 L 446.2,768.8 L 432.5,775.0 L 426.2,778.1 M 433.1,762.5 L 433.1,773.8 M 436.2,760.0 L 436.2,772.5 M 427.5,753.8 L 432.5,757.5 M 423.8,762.5 L 432.5,766.2"/>
</g>
<g class="cv">
<path class="k t" d="M 320.0,580.8 L 356.9,560.0 M 320.0,587.8 L 369.1,560.0"/>
<path class="k h" d="M 320.0,604.5 L 400.0,560.0" style="stroke-width:2.4"/>
<path class="k t" d="M 335.6,560.0 L 335.6,571.9 M 338.8,560.0 L 338.8,570.6 M 340.0,562.5 C 343.8,565.0 348.8,564.4 352.5,561.9"/>
<path class="k t" d="M 349.0,647.5 L 433.1,603.1"/>
<path class="k m" d="M 407.5,560.0 C 417.5,567.5 427.5,580.0 432.5,595.0 C 433.8,601.2 434.4,610.0 434.4,615.0"/>
<path class="k m" d="M 410.2,560.0 C 420.0,568.8 430.0,582.5 434.4,597.5 L 436.2,615.0"/>
<path class="k m" d="M 475.6,602.1 C 488.8,601.2 505.0,612.5 520.0,630.0"/>
<path class="k t" d="M 481.2,600.6 C 493.8,601.9 507.5,612.5 520.0,626.2"/>
<path class="k t" d="M 371.9,652.8 L 435.6,615.2 M 436.9,608.8 L 452.5,600.0 M 437.5,612.5 L 461.0,600.0 M 436.2,615.9 L 465.9,600.0"/>
<path class="k m" d="M 380.2,655.2 L 475.6,602.1" style="stroke-width:2"/>
<path class="k t" d="M 482.5,560.0 L 482.5,577.5 L 487.5,583.8 L 495.0,581.2 L 495.0,560.0 M 488.1,560.0 L 488.1,583.1 M 492.5,560.0 L 492.5,582.5 M 495.0,581.2 L 497.5,586.9 M 507.5,560.0 L 508.8,572.5 L 515.0,576.2 L 520.0,573.8 M 497.5,581.2 L 520.0,569.4 M 498.8,586.9 L 520.0,575.2"/>
<path class="k m" d="M 488.8,562.5 L 488.8,581.2"/>
<ellipse class="k m" cx="334.0" cy="646.9" rx="3.1" ry="3.5"/>
<ellipse class="k t" cx="334.0" cy="646.9" rx="1.6" ry="1.9"/>
<path class="k m" d="M 320.0,641.2 L 325.0,643.8 C 326.9,638.8 331.9,636.2 336.9,636.5 C 342.5,637.2 345.0,642.5 346.2,647.5 L 348.1,653.1"/>
<path class="k t" d="M 340.6,651.2 C 342.5,655.0 345.0,657.5 348.1,658.8 M 341.2,653.1 L 345.0,650.2"/>
<path class="k m" d="M 348.1,653.1 C 357.5,660.0 367.5,670.0 375.0,680.0 C 380.0,687.5 385.0,693.8 388.1,698.8 L 395.0,697.5" style="stroke-width:2.2"/>
<path class="k t" d="M 346.2,658.8 C 356.2,665.0 366.2,673.8 373.8,683.8 C 378.8,690.0 382.5,695.0 386.2,698.8"/>
<path class="k m" d="M 388.1,698.8 C 395.0,696.2 401.2,697.5 403.8,702.5 L 405.0,710.0"/>
<ellipse class="k m" cx="376.9" cy="707.5" rx="3.0" ry="3.5"/>
<ellipse class="k t" cx="376.9" cy="707.5" rx="1.5" ry="1.9"/>
<path class="k m" d="M 320.0,656.2 C 332.5,661.2 345.0,668.8 357.5,680.0 C 367.5,690.0 375.0,700.0 378.8,710.0"/>
<ellipse class="k m" cx="375.0" cy="664.4" rx="11.5" ry="6.0"/>
<ellipse class="k m" cx="375.0" cy="664.8" rx="6.9" ry="3.5"/>
<ellipse class="k t" cx="375.0" cy="665.0" rx="3.5" ry="1.6"/>
<path class="k m" d="M 359.0,661.5 C 361.2,656.2 370.0,653.8 378.8,655.0 C 385.0,656.2 388.8,660.0 389.4,665.0 C 390.0,670.0 391.9,672.5 392.5,676.2 C 392.5,680.0 390.0,683.1 387.5,683.8"/>
<path class="k t" d="M 363.1,667.8 C 367.5,671.5 375.0,672.8 381.2,671.5 M 382.5,670.6 L 385.0,682.5 M 390.0,672.5 L 388.8,682.5 M 367.5,671.9 L 378.8,685.0 M 372.5,672.5 L 382.5,685.0"/>
</g>
<g class="cv">
<path class="k m" d="M 545.6,710.0 L 607.5,671.9 L 637.5,656.9"/>
<path class="k m" d="M 655.0,646.2 L 665.0,653.1 L 675.0,648.8 L 675.0,635.0 L 720.0,610.0"/>
<path class="k t" d="M 526.2,575.0 C 538.8,567.5 551.2,570.0 561.2,582.5 C 570.0,592.5 575.0,602.5 578.8,612.5 M 527.5,567.5 C 540.0,560.0 557.5,562.5 570.0,578.8 C 577.5,590.0 581.2,597.5 583.8,605.0 M 520.0,581.2 L 526.2,575.0 M 520.0,573.8 L 527.5,567.5"/>
<path class="k t" d="M 551.2,560.0 C 567.5,567.5 580.0,582.5 587.5,601.2 M 572.5,560.0 C 587.5,570.0 597.5,585.0 601.2,601.2 M 586.2,560.0 C 597.5,567.5 605.0,577.5 610.0,588.8"/>
<path class="k m" d="M 578.8,560.0 C 592.5,570.0 602.5,583.8 606.2,597.5" style="stroke-width:2"/>
<path class="k t" d="M 600.0,592.5 C 602.5,601.2 603.8,610.0 603.8,616.2 M 601.9,601.2 L 607.5,616.2"/>
<ellipse class="k m" cx="624.4" cy="591.2" rx="10.6" ry="5.6"/>
<ellipse class="k m" cx="624.4" cy="591.5" rx="6.9" ry="3.5"/>
<path class="k m" d="M 613.8,591.9 L 615.0,630.0 M 635.6,591.2 L 637.5,656.9 M 626.2,652.5 L 626.2,662.5 M 620.0,662.5 L 620.0,655.0 C 621.2,651.9 625.0,651.2 627.5,653.1 L 627.5,661.2"/>
<path class="k m" d="M 622.5,600.0 L 624.8,652.5" style="stroke-width:2.2"/>
<path class="k t" d="M 606.2,582.5 L 615.0,576.9 C 618.8,576.2 621.2,578.8 623.8,583.8 M 607.5,585.2 L 616.2,580.2 M 606.2,582.5 L 610.0,595.0 M 612.5,597.5 L 616.2,630.0 M 617.5,601.2 L 615.0,612.5"/>
<ellipse class="k m" cx="602.5" cy="626.2" rx="3.8" ry="3.2"/>
<path class="k m" d="M 582.5,607.5 C 587.5,605.0 592.5,606.2 595.0,610.0 L 600.0,616.2 C 607.5,615.0 613.8,620.0 613.1,627.5 C 612.5,633.8 606.2,636.2 600.0,635.0 C 595.0,633.8 593.8,627.5 595.0,622.5 L 582.5,610.0"/>
<path class="k t" d="M 580.0,607.5 L 582.5,635.0 M 582.5,635.0 L 591.2,621.2 M 587.5,636.2 L 595.0,630.0 M 572.5,601.2 C 567.5,602.5 562.5,607.5 561.9,615.0 L 563.8,630.0 M 563.8,605.0 L 575.0,601.2 M 568.8,610.0 L 578.8,616.2 L 580.0,637.5 M 570.0,630.0 L 571.2,635.0"/>
<path class="k m" d="M 540.6,625.0 C 540.6,621.2 545.0,618.8 548.1,620.6 L 548.8,625.0 C 557.5,631.2 570.0,637.5 580.0,638.8 L 600.0,642.5 L 602.5,643.1 L 602.5,671.9"/>
<path class="k t" d="M 548.8,625.0 L 550.6,670.0 M 540.6,625.0 L 545.0,642.5 L 548.8,672.5 M 567.5,637.5 L 567.5,672.5 M 572.5,640.0 L 572.5,672.5 M 567.5,672.5 L 602.5,671.9 L 607.5,671.9 M 550.6,630.0 C 558.8,635.0 570.0,640.0 580.0,641.2"/>
<path class="k t" d="M 531.2,670.0 L 532.5,703.8 L 531.2,710.0"/>
<path class="k t" d="M 545.0,657.5 C 548.8,667.5 555.0,677.5 562.5,685.0 L 566.2,686.2 L 566.2,697.5 L 563.8,698.8 M 550.0,660.0 C 552.5,670.0 557.5,677.5 565.0,683.8 M 532.5,696.2 L 562.5,680.0 M 533.8,702.5 L 563.8,690.0 M 562.5,685.0 L 562.5,697.5 M 532.5,703.8 L 563.1,698.8"/>
<path class="k t" d="M 637.5,590.0 L 661.2,577.5 M 637.5,596.2 L 661.2,585.0 M 638.1,601.2 L 661.2,590.0"/>
<path class="k m" d="M 640.0,612.5 L 661.2,601.2 L 667.5,607.5 M 640.0,612.5 L 666.2,627.5 L 686.2,618.8 L 686.2,615.0 M 666.2,627.5 L 665.0,653.1 M 666.2,627.5 L 675.0,635.0"/>
<path class="k t" d="M 665.0,618.8 C 665.0,613.8 670.0,611.2 676.2,612.5 L 682.5,615.0 M 642.5,611.2 L 660.0,603.1"/>
<path class="k t" d="M 638.8,615.0 L 655.0,640.0 L 655.0,646.2 M 640.0,618.8 L 652.5,637.5 M 637.5,640.0 L 653.8,632.5 M 638.1,645.0 L 654.4,637.5 M 638.8,652.5 L 655.0,646.2"/>
<path class="k t" d="M 661.2,560.0 L 662.5,591.2 L 661.2,601.2 M 665.0,560.0 L 666.2,590.0 M 670.0,560.0 C 671.2,575.0 677.5,592.5 687.5,612.5 M 667.5,590.0 C 672.5,601.2 680.0,610.0 687.5,615.0 M 678.8,560.0 L 680.0,601.2"/>
<path class="k m" d="M 691.2,560.0 L 691.2,625.0 L 693.1,624.4 M 687.5,612.5 L 687.5,622.5 L 691.2,625.0"/>
<path class="k t" d="M 693.8,601.2 L 705.0,607.5 L 720.0,606.2 M 693.8,601.2 L 693.1,624.4 L 720.0,609.4 M 705.0,567.5 L 706.2,602.5 M 707.5,572.5 L 710.0,578.8 L 710.0,570.0 M 692.5,562.5 L 707.5,572.5 M 707.5,560.0 C 710.0,563.8 715.0,566.2 720.0,565.6"/>
</g>
<g class="cv">
<path class="k m" d="M 348.1,546.2 L 355.2,502.5 C 356.2,499.4 360.0,495.0 363.1,491.2 C 361.9,486.2 365.0,481.2 375.0,478.1 C 380.0,480.0 386.2,483.1 390.0,485.0"/>
<path class="k m" d="M 390.0,485.0 C 395.0,488.1 400.0,491.2 402.5,495.0" style="stroke-width:2.2"/>
<path class="k m" d="M 402.5,495.0 L 430.0,523.8 L 431.9,527.5 L 427.5,530.0 L 406.2,540.0"/>
<path class="k t" d="M 382.5,496.2 C 382.5,490.0 387.5,486.2 393.8,487.5 C 398.8,488.8 400.6,493.8 399.4,498.8 C 398.1,503.1 393.8,505.0 388.8,503.8 C 384.4,502.5 382.5,500.0 382.5,496.2"/>
<path class="k t" d="M 375.0,507.5 C 378.8,508.8 385.0,508.8 390.0,508.1 C 396.2,508.1 401.2,505.0 402.5,500.0 L 402.5,496.2"/>
<path class="k t" d="M 363.1,491.2 L 382.5,502.5 M 365.0,489.0 L 381.9,499.0 M 357.5,497.5 L 375.0,507.5 M 356.9,506.2 L 373.8,516.2 M 375.0,507.5 L 373.8,516.2 L 378.8,517.5 L 383.8,508.8"/>
<path class="k t" d="M 373.8,516.2 L 390.0,540.0 M 385.0,510.0 L 405.0,538.8 M 405.0,496.2 L 431.9,525.0 M 430.0,528.1 L 407.5,538.8"/>
<path class="k t" d="M 380.0,547.0 C 383.0,543.0 387.0,541.0 392.0,540.5 L 402.0,541.0 M 385.0,545.6 C 387.5,543.5 392.5,542.8 397.5,543.0"/>
<path class="k t" d="M 356.9,560.0 L 381.0,546.5 M 369.1,560.0 L 404.5,541.0"/>
<path class="k m" d="M 400.0,560.0 L 418.2,549.8" style="stroke-width:2.6"/>
<path class="k m" d="M 404.5,541.0 L 418.5,549.0 L 418.2,550.0"/>
<ellipse class="k m" cx="345.6" cy="553.8" rx="10.6" ry="5.6"/>
<ellipse class="k m" cx="345.6" cy="554.0" rx="6.2" ry="3.1"/>
<path class="k t" d="M 335.0,553.8 L 335.0,560.0 M 356.2,553.8 L 357.5,558.1"/>
<path class="k t" d="M 416.2,506.2 C 420.0,505.0 425.0,506.2 427.5,510.0 C 429.4,513.8 428.8,517.5 426.2,518.8"/>
<ellipse class="k t" cx="421.9" cy="511.2" rx="2.8" ry="3.5"/>
<ellipse class="k t" cx="430.0" cy="517.5" rx="2.0" ry="2.0"/>
<path class="k m" d="M 445.6,478.1 L 463.8,438.8 L 470.0,428.8 C 471.2,422.5 475.0,417.5 481.2,415.6 L 485.0,416.2 C 492.5,420.0 500.0,423.8 505.0,430.0 C 507.5,433.8 507.5,437.5 506.9,441.2 L 520.0,457.5"/>
<path class="k t" d="M 488.8,435.0 C 488.8,428.8 493.8,425.0 500.0,426.2 C 505.0,427.5 506.9,432.5 506.2,436.2 C 505.0,440.6 500.0,441.9 495.0,441.2 C 490.6,440.0 488.8,438.1 488.8,435.0"/>
<path class="k t" d="M 482.5,445.0 C 487.5,446.2 495.0,446.2 500.0,445.0 C 505.0,443.8 507.5,441.9 507.5,438.8"/>
<path class="k t" d="M 470.0,428.8 L 488.8,439.4 M 471.9,426.5 L 488.5,436.5 M 465.0,438.8 L 482.5,447.5 M 482.5,445.0 L 482.5,447.5 L 493.8,450.0 M 482.5,447.5 L 497.5,482.5 M 493.8,450.0 L 506.2,480.0"/>
<path class="k m" d="M 445.6,478.1 L 448.8,477.5 L 478.8,492.5 M 497.5,483.8 C 492.5,483.8 485.0,486.2 478.8,492.5 M 497.5,483.8 L 506.2,481.2 L 520.0,473.1 M 500.0,485.0 L 520.0,475.0"/>
<path class="k m" d="M 411.9,498.8 L 445.0,478.8"/>
<ellipse class="k m" cx="451.2" cy="492.5" rx="11.0" ry="5.5"/>
<ellipse class="k m" cx="451.2" cy="492.8" rx="6.2" ry="3.0"/>
<path class="k t" d="M 440.2,494.0 C 440.0,497.5 445.0,501.2 452.5,501.2 M 452.5,501.2 L 455.0,505.0"/>
</g>
<g class="cv">
<path class="k m" d="M 531.9,460.0 L 620.0,410.6"/>
<path class="k m" d="M 548.4,457.8 L 604.8,424.6 C 607.5,423.5 610.0,424.0 612.5,425.2 L 618.8,430.6" style="stroke-width:1.8"/>
<path class="k m" d="M 618.8,430.6 C 620.0,432.2 619.4,433.8 617.5,434.8 L 567.0,463.0 C 564.4,465.0 561.2,465.2 558.6,464.5 L 548.4,457.8" style="stroke-width:3"/>
<ellipse class="k m" cx="604.6" cy="431.9" rx="7.2" ry="4.8" style="stroke-width:2.2" transform="rotate(-12 604.6 431.9)"/>
<ellipse class="k m" cx="587.0" cy="441.8" rx="7.8" ry="5.0" style="stroke-width:2.2" transform="rotate(-12 587.0 441.8)"/>
<path class="k m" d="M 552.8,456.5 L 561.9,451.9 L 569.0,456.5 L 560.0,461.5 Z" style="stroke-width:2"/>
<path class="k t" d="M 556.2,456.5 L 561.9,453.8 L 565.6,456.2 L 560.2,459.2 Z M 557.5,458.1 L 563.8,455.0"/>
<ellipse class="k m" cx="577.5" cy="419.4" rx="10.0" ry="5.2"/>
<ellipse class="k m" cx="577.5" cy="419.6" rx="6.2" ry="3.1"/>
<path class="k t" d="M 567.5,420.0 L 568.1,438.8 M 588.1,420.0 L 590.0,426.2 M 570.0,428.8 C 573.8,432.5 581.2,432.5 586.2,428.8 M 569.8,422.5 L 569.8,435.0 M 573.8,431.2 L 573.8,436.9 M 582.5,430.6 L 583.8,431.9"/>
<path class="k m" d="M 532.5,461.9 C 545.0,463.8 557.5,475.0 566.2,492.5 C 571.2,502.5 573.1,512.5 572.5,522.5 L 570.6,536.2"/>
<path class="k t" d="M 533.8,465.0 C 545.0,467.5 555.0,477.5 562.5,492.5 C 566.9,502.5 568.1,512.5 567.5,522.5 L 566.9,535.0"/>
<path class="k t" d="M 600.0,502.4 L 650.0,475.0 M 668.1,465.0 L 702.5,446.2"/>
<path class="k t" d="M 600.0,520.2 L 703.8,463.8 M 600.0,526.2 L 617.0,518.0 M 600.0,535.2 L 616.0,522.0"/>
<path class="k m" d="M 621.2,517.8 L 720.0,460.0" style="stroke-width:2.2"/>
<path class="k m" d="M 616.2,520.0 C 620.0,516.2 626.2,515.6 632.5,516.9 C 643.8,521.2 655.0,532.5 661.2,547.5 L 663.8,560.0"/>
<path class="k t" d="M 620.0,520.0 C 630.0,520.0 640.0,526.2 650.0,538.8 C 656.2,547.5 658.8,555.0 660.0,560.0"/>
<path class="k t" d="M 666.2,550.0 L 681.2,542.5 L 687.5,546.2 L 697.5,552.5 M 673.8,551.5 L 682.5,546.5 M 666.2,550.0 L 668.8,560.0"/>
<ellipse class="k m" cx="685.0" cy="555.6" rx="8.8" ry="4.4"/>
<ellipse class="k t" cx="685.0" cy="556.0" rx="5.2" ry="2.5"/>
<path class="k t" d="M 520.0,451.2 L 525.0,453.8 L 527.5,460.0 L 531.2,460.0 M 520.0,457.5 L 525.0,465.0 L 531.9,463.8 M 520.0,472.5 L 527.5,468.8 M 525.0,453.8 L 525.0,465.0"/>
<path class="k t" d="M 607.5,410.0 L 610.0,413.8 L 618.8,410.0"/>
</g>
<g class="cv">
<ellipse class="k m" cx="746.9" cy="441.2" rx="10.6" ry="5.6"/>
<ellipse class="k m" cx="746.9" cy="441.5" rx="6.2" ry="3.4"/>
<path class="k t" d="M 720.0,428.8 C 725.0,431.2 730.0,435.0 736.2,438.1 M 720.0,435.0 C 723.8,436.2 728.8,438.8 735.6,443.8 M 720.0,460.0 L 735.6,450.6 M 757.5,442.8 L 772.5,446.2 M 756.2,447.5 C 762.5,446.2 767.5,445.0 772.5,446.2 M 736.2,447.5 C 741.2,451.2 751.2,451.2 757.5,447.5"/>
<path class="k m" d="M 735.0,451.2 C 747.5,451.2 763.8,462.5 773.8,476.2 C 778.8,483.8 782.5,487.5 784.0,490.0"/>
<path class="k t" d="M 757.5,451.2 C 767.5,460.0 776.2,472.5 782.5,485.0"/>
<path class="k m" d="M 771.2,445.6 C 776.2,447.5 781.2,450.0 785.0,453.1" style="stroke-width:2.4"/>
<path class="k t" d="M 772.5,446.2 C 777.5,441.2 782.5,438.8 787.5,439.0"/>
<ellipse class="k m" cx="798.1" cy="442.5" rx="10.6" ry="5.6"/>
<ellipse class="k m" cx="798.1" cy="442.8" rx="6.0" ry="3.1"/>
<ellipse class="k t" cx="798.1" cy="443.0" rx="3.1" ry="1.5"/>
<path class="k m" d="M 787.5,443.1 L 786.9,457.5 C 785.0,460.0 783.8,463.8 785.0,466.2 M 809.0,443.1 L 809.4,465.0 M 785.0,466.2 L 790.0,471.2 L 806.2,470.0 L 810.0,466.2"/>
<path class="k t" d="M 786.9,457.5 C 787.5,465.0 790.0,468.8 795.0,470.0 C 801.2,470.0 807.5,467.5 809.4,463.8 M 782.5,460.0 C 782.5,466.2 786.2,472.5 791.2,475.0"/>
<path class="k m" d="M 784.0,490.0 L 788.8,485.0 L 792.5,480.0 L 795.0,482.5 M 782.5,475.0 L 790.0,471.2 M 782.5,475.0 L 785.0,482.5 L 784.0,490.0 M 792.5,480.0 C 795.0,481.2 800.0,485.0 805.0,490.0 M 810.0,466.2 C 813.8,465.0 818.8,467.5 821.2,472.5 L 822.5,476.2 M 810.0,470.0 L 815.0,475.0"/>
<ellipse class="k m" cx="815.0" cy="481.2" rx="11.9" ry="6.2" style="stroke-width:2"/>
<ellipse class="k m" cx="815.0" cy="481.5" rx="7.5" ry="3.8"/>
<path class="k m" d="M 803.1,481.9 L 807.5,490.0 L 807.5,528.8 M 826.9,481.9 L 828.8,522.5 L 828.8,546.2 L 822.5,550.0 L 820.0,547.5"/>
<path class="k m" d="M 792.5,485.0 C 793.1,497.5 795.0,510.0 800.0,522.5 C 803.8,531.2 810.0,537.5 817.5,541.2"/>
<path class="k t" d="M 797.5,487.5 C 797.5,500.0 800.0,512.5 805.0,525.0 C 807.5,530.0 811.2,535.0 816.2,538.8 M 795.0,502.5 L 798.8,501.2 M 800.0,522.5 L 806.2,518.8 M 805.0,530.0 L 810.0,527.5"/>
<path class="k m" d="M 817.5,541.2 L 820.0,542.5 L 820.0,547.5 L 797.5,560.0 M 816.2,538.8 L 795.0,547.5 M 795.0,547.5 L 797.5,551.2"/>
<path class="k t" d="M 763.1,518.8 L 795.0,502.5 M 763.8,525.0 L 796.2,508.8"/>
<ellipse class="k m" cx="750.6" cy="518.8" rx="10.6" ry="5.6"/>
<ellipse class="k m" cx="750.6" cy="519.0" rx="6.9" ry="3.5"/>
<path class="k m" d="M 726.2,520.0 C 726.2,516.2 730.0,513.8 735.0,511.2 L 744.4,506.2 C 747.5,505.6 750.0,507.5 751.2,510.0 M 731.2,516.5 L 745.0,509.0 M 726.2,520.0 L 728.8,525.0 L 733.8,527.5"/>
<path class="k t" d="M 740.0,520.0 L 741.9,527.5 L 742.5,560.0 M 761.9,520.0 L 763.1,560.0 M 728.8,525.0 C 731.2,535.0 733.8,547.5 736.2,560.0 M 733.8,527.5 C 736.2,537.5 738.8,550.0 740.0,560.0"/>
<ellipse class="k m" cx="785.0" cy="549.4" rx="10.6" ry="11.2"/>
<ellipse class="k t" cx="785.0" cy="550.2" rx="8.1" ry="8.8"/>
<path class="k t" d="M 778.8,542.5 C 782.5,540.0 787.5,541.2 790.0,545.0 M 782.5,543.8 L 785.0,545.2"/>
<path class="k t" d="M 720.0,541.2 L 727.5,540.0 L 730.0,545.0 M 720.0,547.5 L 725.0,550.0 L 725.0,557.5"/>
</g>
<g class="cv">
<path class="k m" d="M 620.0,410.6 L 650.6,393.8"/>
<path class="k t" d="M 607.5,415.0 L 608.1,406.2 C 610.0,402.5 613.8,401.9 616.2,403.8 L 621.2,406.2 M 611.2,405.0 L 611.9,412.5 M 616.2,403.8 L 617.5,410.0"/>
<ellipse class="k m" cx="641.2" cy="383.1" rx="10.0" ry="5.6"/>
<ellipse class="k m" cx="641.2" cy="383.4" rx="6.2" ry="3.1"/>
<path class="k t" d="M 631.0,383.8 L 631.0,401.2 M 635.0,388.8 C 637.5,391.2 645.0,391.9 650.6,390.0 M 635.0,392.5 L 635.0,397.5 L 642.5,395.0 M 638.8,392.1 L 650.0,391.5 M 640.0,395.2 L 650.0,394.0"/>
<path class="k m" d="M 667.5,361.9 C 673.8,361.2 680.0,364.4 680.0,368.8 C 680.0,372.5 675.0,375.0 668.1,375.0"/>
<path class="k m" d="M 668.1,365.0 C 672.5,365.0 675.6,366.9 675.0,369.4 C 674.4,371.2 671.2,371.9 668.1,371.9"/>
<path class="k t" d="M 668.1,373.1 L 675.0,373.1 M 680.6,368.8 L 681.2,385.6"/>
<path class="k m" d="M 667.5,391.2 L 676.2,388.1 L 683.8,387.5 C 686.2,385.0 690.0,384.4 693.8,385.0 C 703.8,388.8 712.5,400.0 717.5,411.2 L 721.2,417.5"/>
<path class="k t" d="M 676.2,388.1 L 678.8,391.2 L 683.8,387.5 M 667.5,395.0 L 677.5,391.2"/>
<path class="k m" d="M 683.8,392.5 C 691.2,397.5 698.8,405.0 703.8,412.5" style="stroke-width:2.2"/>
<path class="k t" d="M 680.0,391.9 C 687.5,396.2 695.0,403.8 700.0,411.2 M 667.5,401.9 C 675.0,407.5 682.5,417.5 687.5,428.8 L 690.0,434.4 M 668.8,405.0 C 675.0,411.2 681.2,420.0 686.2,430.0"/>
<path class="k m" d="M 687.5,418.8 L 698.8,413.8 M 690.0,434.4 L 700.0,428.8 L 698.1,422.5 M 687.5,428.8 L 696.2,425.0"/>
<ellipse class="k m" cx="709.4" cy="420.0" rx="10.6" ry="5.6" style="stroke-width:2"/>
<ellipse class="k m" cx="709.4" cy="420.2" rx="6.2" ry="3.1"/>
<path class="k t" d="M 700.0,410.0 C 702.5,407.5 706.2,407.5 708.8,410.0 M 698.8,425.0 C 700.0,428.8 705.0,430.0 710.0,430.0"/>
<path class="k m" d="M 718.8,425.0 L 725.0,430.0 L 736.2,437.5 M 721.2,417.5 C 722.5,422.5 725.0,426.2 730.0,430.0 L 736.2,435.0 M 710.0,431.2 C 717.5,432.5 727.5,437.5 735.0,446.2"/>
<ellipse class="k m" cx="746.9" cy="441.2" rx="11.2" ry="6.0" style="stroke-width:2"/>
<ellipse class="k m" cx="746.9" cy="441.5" rx="6.9" ry="3.5"/>
<path class="k t" d="M 757.5,442.5 L 765.0,446.2 L 780.0,440.0 M 736.2,447.5 C 741.2,451.2 751.2,451.2 757.5,447.5"/>
<path class="k m" d="M 758.8,446.2 L 770.0,445.0 L 780.0,450.0" style="stroke-width:2.2"/>
<path class="k m" d="M 700.0,430.0 C 703.1,440.0 703.8,450.0 703.1,460.0 L 703.1,465.6 M 705.0,431.2 L 706.2,455.0 L 706.2,465.6 M 703.1,465.6 C 703.8,467.5 706.2,467.5 707.5,465.6 M 707.5,463.8 L 712.5,463.8"/>
<path class="k m" d="M 720.0,460.0 L 735.0,450.6" style="stroke-width:2.2"/>
<path class="k m" d="M 735.0,450.2 C 746.2,450.0 760.0,460.0 771.2,473.8 L 775.0,480.0"/>
<path class="k t" d="M 752.5,450.0 C 761.2,455.0 772.5,465.0 780.0,475.0"/>
</g>
<g class="cv">
<path class="k m" d="M 696.5,537.0 C 696.5,533.0 700.0,531.0 704.0,532.0 L 706.5,534.5"/>
<path class="k m" d="M 705.5,534.5 L 724.5,547.5" style="stroke-width:2.6"/>
<path class="k m" d="M 696.5,537.0 L 699.0,542.0 L 698.5,550.0 M 700.0,539.5 L 707.0,552.0 C 704.0,557.0 705.5,565.0 712.0,569.5 L 722.0,570.0 C 725.5,568.0 725.0,562.0 723.0,558.0 C 721.0,554.5 718.0,553.0 715.0,553.0 L 706.5,540.0"/>
<ellipse class="k m" cx="714.5" cy="561.0" rx="5.5" ry="4.5" style="stroke-width:2"/>
<ellipse class="k m" cx="714.5" cy="561.2" rx="2.8" ry="2.4"/>
<path class="k m" d="M 724.0,547.0 L 724.0,557.0" style="stroke-width:3"/>
<path class="k t" d="M 699.0,550.0 L 696.0,556.0 L 693.0,564.0 L 705.0,574.0 L 709.0,578.0 L 709.0,570.0 M 696.0,556.0 L 703.0,568.0 M 695.0,560.0 L 701.0,569.0 M 698.5,550.0 L 705.0,560.0"/>
<path class="k t" d="M 705.0,574.0 L 705.5,604.0 C 710.0,608.0 720.0,607.0 727.0,603.0 L 727.0,564.0 M 693.0,600.0 L 705.0,606.0"/>
<path class="k t" d="M 734.0,527.0 C 736.0,540.0 737.0,550.0 738.0,557.0 L 742.0,560.0 M 728.0,525.0 C 730.0,533.0 729.0,540.0 729.0,548.0 L 728.0,560.0 M 734.5,540.0 L 734.5,556.0"/>
<path class="k m" d="M 742.5,530.0 L 742.5,559.0 M 762.5,530.0 L 762.5,559.0"/>
<path class="k m" d="M 742.5,559.0 C 748.0,562.0 758.0,561.0 762.5,558.5"/>
<path class="k t" d="M 730.0,562.0 C 734.0,558.0 738.0,558.0 742.0,560.0 M 733.0,561.2 C 738.0,564.0 744.0,565.2 750.0,565.2 C 758.0,564.2 764.0,562.0 766.0,559.0"/>
<path class="k m" d="M 730.0,562.0 L 754.0,575.0 L 774.0,566.0 L 766.0,559.0 M 742.0,565.2 L 754.0,572.0 L 770.0,565.0"/>
<ellipse class="k m" cx="755.0" cy="568.5" rx="5.2" ry="2.6"/>
<path class="k m" d="M 754.2,575.0 L 754.5,587.0" style="stroke-width:2.4"/>
<path class="k m" d="M 774.0,566.0 L 776.0,590.0 L 768.0,594.0 L 756.0,588.0 M 744.0,582.0 L 744.0,595.0 M 744.0,582.0 L 754.5,587.0 M 758.0,587.0 L 765.0,580.0 L 768.0,581.0 L 768.0,594.0"/>
<path class="k t" d="M 776.0,568.0 L 820.0,544.0 M 770.0,560.0 L 775.0,557.8 M 796.0,547.8 L 813.0,540.0"/>
<path class="k m" d="M 776.5,575.2 L 820.0,550.2"/>
<path class="k m" d="M 700.0,620.0 L 744.0,596.0 L 756.0,589.0"/>
<path class="k t" d="M 728.0,604.0 L 744.0,595.0 M 729.0,580.0 L 742.0,574.0 M 728.5,590.0 L 744.0,583.0 M 729.0,594.0 L 742.0,588.0 M 740.0,576.0 L 742.0,595.0 M 732.0,564.0 C 734.0,572.0 738.0,579.0 744.0,584.0 M 730.0,565.0 C 731.0,573.0 735.0,580.0 740.0,585.0"/>
</g>
<g class="cv">
<path class="k t" d="M 433.0,519.0 C 435.0,512.0 443.0,507.5 452.5,506.8 C 460.0,507.0 465.0,509.0 469.0,512.0"/>
<path class="k m" d="M 460.0,509.0 C 473.0,518.0 487.0,536.0 493.5,554.0 L 494.8,585.0" style="stroke-width:2.4"/>
<path class="k t" d="M 435.0,514.5 C 446.0,510.0 464.0,514.0 473.0,524.0 C 481.0,533.0 487.0,544.0 489.5,556.0 L 490.0,584.0"/>
<path class="k t" d="M 436.0,520.5 C 450.0,517.0 460.0,522.0 468.0,532.0 C 475.0,541.0 480.0,550.0 482.0,558.0 L 483.0,580.0 C 484.0,582.0 487.0,584.0 490.0,584.5"/>
<path class="k t" d="M 482.0,558.0 L 488.0,556.2 M 482.5,563.0 L 489.0,562.0 M 483.0,568.0 L 489.5,568.0 M 483.0,577.5 L 487.0,577.5 M 490.0,584.0 L 494.8,585.0"/>
<path class="k m" d="M 473.0,493.0 C 485.0,495.0 496.0,506.0 504.0,520.0 C 511.0,532.0 515.0,542.0 516.0,550.0 L 517.5,568.0" style="stroke-width:2.4"/>
<path class="k t" d="M 458.0,503.2 C 466.0,499.0 474.0,499.0 482.0,503.0 C 492.0,509.0 501.0,522.0 507.0,536.0 C 509.0,542.0 510.0,546.0 510.5,550.0 L 512.0,575.0"/>
<path class="k t" d="M 459.0,505.2 C 468.0,501.5 478.0,505.0 486.0,514.0 C 495.0,524.0 502.0,536.0 506.0,548.0 L 508.0,573.0 C 509.0,575.0 511.0,576.0 513.0,576.5"/>
<path class="k t" d="M 455.0,501.5 C 462.0,496.0 468.0,493.5 473.0,493.0 M 506.0,540.0 L 513.0,539.0 M 507.0,549.0 L 516.0,549.0 M 512.0,575.0 C 513.5,576.5 515.5,576.0 517.5,568.0"/>
<path class="k t" d="M 440.0,593.0 L 482.0,570.0 M 496.0,563.0 L 508.0,557.0 M 519.0,548.0 L 567.0,524.0 M 574.0,520.0 L 600.0,504.0"/>
<path class="k t" d="M 450.0,600.0 L 483.0,580.0 M 456.0,600.0 L 490.0,584.5 M 464.0,600.0 L 496.0,586.0 M 496.0,580.0 L 510.0,574.0"/>
<path class="k m" d="M 470.0,600.0 L 524.0,576.2" style="stroke-width:2"/>
<path class="k t" d="M 519.0,558.0 L 566.0,536.0 M 520.0,563.0 L 567.0,539.0 M 514.0,576.0 L 550.0,559.0 M 520.0,566.2 L 569.0,541.2"/>
<path class="k t" d="M 567.0,524.0 L 567.5,535.0 C 568.0,537.0 570.0,537.5 572.0,536.0 L 573.0,520.0 M 569.2,521.0 L 569.7,536.2"/>
<path class="k t" d="M 572.0,536.0 L 600.0,522.0 M 560.0,548.0 L 600.0,526.2 M 576.0,548.0 L 600.0,535.2"/>
<path class="k m" d="M 525.0,577.0 C 527.0,570.0 532.0,565.0 540.0,561.0 L 548.0,559.0"/>
<path class="k m" d="M 548.0,559.0 C 556.0,560.0 565.0,567.0 572.0,576.0 C 578.0,584.0 582.0,592.0 584.0,600.0" style="stroke-width:2.4"/>
<path class="k t" d="M 527.0,576.0 C 530.0,570.0 536.0,566.0 543.0,564.0 C 552.0,564.0 562.0,570.0 570.0,580.0 C 575.0,587.0 578.0,594.0 580.0,600.0"/>
<path class="k t" d="M 530.0,575.0 C 536.0,572.0 544.0,572.0 552.0,576.0 C 560.0,581.0 567.0,590.0 571.0,600.0"/>
<path class="k m" d="M 550.0,558.0 C 553.0,552.0 560.0,549.0 568.0,548.0"/>
<path class="k m" d="M 568.0,548.0 C 578.0,550.0 588.0,557.0 596.0,568.0 L 600.0,575.0" style="stroke-width:2.4"/>
<path class="k t" d="M 552.0,559.0 C 558.0,554.0 566.0,553.0 573.0,554.0 C 583.0,558.0 592.0,566.0 599.0,578.0 M 553.0,561.0 C 560.0,558.0 568.0,559.0 575.0,563.0 C 584.0,569.0 592.0,579.0 597.0,590.0 L 600.0,600.0"/>
</g>
<g class="cv">
<path class="k m" d="M 302.0,698.0 C 308.0,699.0 312.0,697.0 314.0,693.0 C 317.0,687.0 322.0,683.0 330.0,682.5 C 340.0,683.0 350.0,690.0 358.0,697.0 C 366.0,705.0 372.0,714.0 376.0,723.0 L 384.0,748.0 L 387.5,760.0"/>
<path class="k m" d="M 317.0,690.5 C 322.0,687.0 328.0,686.2 334.0,687.2 C 344.0,689.2 354.0,697.0 362.0,706.0 C 367.0,713.0 370.0,720.0 373.0,728.0 L 381.0,750.0" style="stroke-width:2"/>
<path class="k t" d="M 370.0,725.0 L 374.0,723.5 M 381.0,750.0 L 384.5,748.5 M 376.0,730.0 L 384.0,751.0"/>
<path class="k t" d="M 344.0,700.0 C 344.0,708.0 348.0,717.0 354.0,725.0 C 358.0,730.0 362.0,735.0 366.0,738.5 M 346.0,704.0 C 349.0,712.0 355.0,722.0 366.0,733.0 M 348.0,706.0 L 356.0,717.0 M 350.0,712.0 L 357.0,716.0 M 349.0,704.0 L 353.0,719.0"/>
<path class="k t" d="M 306.2,662.5 L 306.5,684.5 L 297.0,685.5 M 304.0,663.0 L 304.0,683.0 M 297.0,685.5 L 295.0,673.0 M 298.0,684.0 L 306.0,684.0"/>
<path class="k m" d="M 302.5,698.5 C 300.0,699.0 297.0,696.0 295.0,692.0"/>
</g>
<g class="cv">
<ellipse class="k m" cx="433.0" cy="702.0" rx="10.0" ry="5.5" style="stroke-width:2.2"/>
<ellipse class="k m" cx="433.0" cy="702.3" rx="6.0" ry="3.2"/>
<path class="k m" d="M 412.0,699.0 L 427.0,690.0 C 429.0,689.0 431.0,690.0 432.0,692.0 M 413.5,701.2 L 426.0,694.2 M 412.0,699.0 L 415.0,705.0 L 420.0,708.0 M 415.0,705.0 L 417.0,710.0"/>
<path class="k t" d="M 423.5,703.0 L 425.0,710.0 L 426.0,740.0 M 443.0,703.0 L 445.0,730.0 M 418.0,708.0 L 418.0,740.0"/>
<ellipse class="k m" cx="457.5" cy="688.0" rx="10.0" ry="5.5" style="stroke-width:2.2"/>
<ellipse class="k m" cx="457.5" cy="688.3" rx="6.2" ry="3.2"/>
<path class="k m" d="M 434.5,686.0 L 450.0,676.0 C 453.0,674.5 456.0,675.5 458.0,679.0 M 436.5,688.2 L 450.0,679.2 M 434.5,686.0 L 439.0,694.0 L 444.0,696.0"/>
<path class="k t" d="M 448.0,689.0 L 449.0,729.0 M 467.0,690.0 L 468.0,729.0 M 464.0,694.0 L 464.0,728.0 M 449.0,729.0 C 454.0,731.0 462.0,731.0 468.0,729.0"/>
<path class="k m" d="M 471.0,667.0 C 472.0,663.0 475.0,661.5 477.5,662.5 L 480.0,665.0 M 471.0,667.0 L 473.0,672.0 L 469.0,673.0 L 468.0,676.0 L 469.0,679.0"/>
<path class="k m" d="M 479.0,665.5 L 500.0,678.0" style="stroke-width:2.8"/>
<path class="k m" d="M 470.0,673.0 L 482.0,680.5 C 488.0,678.5 495.0,679.0 499.0,684.0 C 502.0,689.0 501.5,695.0 498.5,699.0 L 486.0,699.2 C 483.5,697.0 482.0,692.0 481.0,686.0 L 469.0,679.0"/>
<ellipse class="k m" cx="490.5" cy="690.5" rx="5.8" ry="5.0" style="stroke-width:2.2"/>
<ellipse class="k m" cx="490.5" cy="690.7" rx="3.2" ry="2.8"/>
<path class="k t" d="M 469.0,679.0 L 470.0,696.0 L 485.0,708.0 L 486.0,700.0 M 470.0,682.0 L 480.0,694.0 L 479.0,705.0 M 472.0,690.0 L 483.0,699.0 M 474.0,684.0 L 482.0,692.0"/>
<path class="k t" d="M 483.0,708.0 L 484.0,733.0 C 489.0,736.0 498.0,735.0 502.0,732.0 L 502.0,700.0"/>
<path class="k m" d="M 500.0,678.0 L 501.2,685.0" style="stroke-width:3"/>
<ellipse class="k m" cx="517.5" cy="652.0" rx="10.5" ry="5.8" style="stroke-width:2.2"/>
<ellipse class="k m" cx="517.5" cy="652.3" rx="6.5" ry="3.5"/>
<path class="k m" d="M 494.0,655.0 C 493.5,651.0 496.0,648.0 500.0,646.0 L 512.0,640.0 C 516.0,638.5 519.0,640.0 521.0,644.0 M 500.0,650.0 L 512.0,643.5 C 514.0,643.0 516.0,644.0 517.0,645.5 M 494.0,655.0 L 496.0,660.0 L 502.0,663.0 M 500.0,650.0 L 502.0,663.0"/>
<path class="k t" d="M 510.0,654.0 L 511.0,664.0 L 511.0,698.0 M 529.0,654.0 L 530.0,668.0 L 531.0,716.0 L 524.0,720.0 L 523.0,712.0 M 503.0,664.0 C 504.0,674.0 505.0,684.0 507.0,692.0 L 510.0,699.0 M 496.0,660.0 C 497.5,667.0 497.5,673.0 499.0,676.0"/>
<path class="k t" d="M 507.0,692.0 C 509.0,700.0 514.0,707.0 522.0,712.0 L 523.0,721.0 L 504.0,730.0 M 504.0,702.0 C 508.0,708.0 513.0,712.0 519.0,715.0 M 504.0,720.0 L 522.0,713.0 M 504.0,724.2 L 521.0,716.2"/>
<path class="k t" d="M 531.0,650.0 L 544.0,644.0 M 532.0,666.0 L 548.0,658.0 M 532.0,670.0 L 549.0,662.0 M 533.0,696.0 L 560.0,682.0 M 533.0,700.0 L 560.0,686.0 M 533.0,706.0 L 560.0,692.0 M 531.0,650.0 L 532.0,716.0"/>
<path class="k m" d="M 533.0,715.0 L 560.0,700.0"/>
<path class="k m" d="M 541.0,624.0 C 542.0,621.0 545.0,620.5 547.0,623.0 L 548.0,644.0 C 550.0,658.0 554.0,668.0 560.0,676.0 M 541.0,624.0 L 544.0,644.0 C 546.0,658.0 550.0,670.0 556.0,680.0 M 544.0,644.0 L 548.0,644.0 M 547.0,623.0 C 551.0,626.0 556.0,629.0 560.0,630.0"/>
<path class="k m" d="M 519.0,629.0 C 523.5,635.0 526.5,642.0 528.8,649.5"/>
<path class="k t" d="M 516.0,629.5 C 520.5,635.0 523.5,641.5 525.8,648.0"/>
<path class="k t" d="M 400.0,698.0 C 404.0,699.0 410.0,700.0 413.0,706.0 L 415.0,712.0 L 402.0,712.0 M 400.0,730.0 L 415.0,726.0 L 417.0,740.0 M 404.0,731.0 L 404.0,740.0"/>
<ellipse class="k m" cx="465.0" cy="737.0" rx="6.0" ry="2.5"/>
<path class="k t" d="M 447.0,730.0 L 464.0,733.0 L 478.0,734.0 L 479.0,740.0 M 447.0,730.0 L 448.0,740.0"/>
</g>
<!-- halo + dashed construction lines -->
<rect x="651.2" y="352" width="16.2" height="134.5" fill="#fff"/>
<path d="M520,724 L546,710" stroke="#000" stroke-width="1.6" fill="none"/>
<g stroke="#000" stroke-width="1.25" fill="none" stroke-linecap="butt">
<!-- bolt 6 vertical -->
<path d="M900.3,260.3 V368.3" stroke-dasharray="10.5 7.5 42 8.25 11.25 3.75 24.75"/>
<!-- bolt 6 diagonal -->
<path d="M1087.8,259.5 L900.3,368.3" stroke-dasharray="41.5 8.4 8.5 7.8"/>
<!-- coil ear vertical: top section -->
<path d="M1088,259.5 V367" stroke-dasharray="41.3 8.2 9 7.5"/>
<path d="M1088,401 V740" stroke-dasharray="41.5 8.5 9.4 7" stroke-dashoffset="33.65"/>
<!-- big box -->
<path d="M659,300 V486" stroke-dasharray="3 9 41 7 10 8 42 7 10 8 41"/>
<path d="M946,442 L658.6,300" stroke-dasharray="42.3 8 8.8 8"/>
<path d="M945.7,449.5 V1122" stroke-dasharray="9.5 7.6 41.5 8.3"/>
<path d="M951,1127 L1137.3,1233.6" stroke-dasharray="41.4 8 9.2 8"/>
<path d="M1137.3,1233.6 V1161.5" stroke-dasharray="23.6 10 9 7.2 22.3"/>
<!-- bolt 5 -->
<path d="M1320.3,599.5 V632 L1188.3,707.5" stroke-dasharray="51.5 5 10.5 8.5 41 8 9 8 42"/>
<path d="M1188.4,707.5 V825.8" stroke-dasharray="8.5 1.8 200"/>
<!-- centre axis -->
<path d="M1135.9,672.3 V754.3" stroke-dasharray="15.7 7 9.4 7 43"/>
<path d="M1136.1,864.2 V917.1" stroke-dasharray="9.6 2.5 40.8"/>
<path d="M1136.1,938.8 V981.5"/>
</g>

</svg>
</body></html>
